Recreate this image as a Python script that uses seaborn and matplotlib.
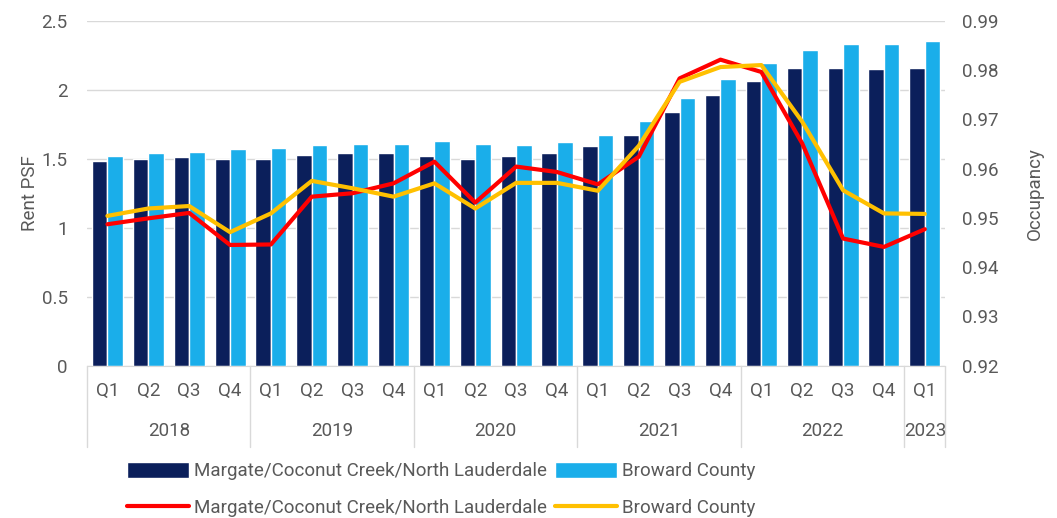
import numpy as np
import pandas as pd
import matplotlib
matplotlib.use("Agg")
import matplotlib.pyplot as plt
import matplotlib.transforms as mtransforms
import seaborn as sns

# data
years = ["2018", "2019", "2020", "2021", "2022", "2023"]
quarters = ["Q1", "Q2", "Q3", "Q4"] * 5 + ["Q1"]
year_of_q = [y for y in years[:5] for _ in range(4)] + ["2023"]
periods = [f"{y} {q}" for y, q in zip(year_of_q, quarters)]

rent_margate = [1.48, 1.50, 1.51, 1.50, 1.50, 1.53, 1.54, 1.54, 1.52, 1.50, 1.52,
                1.54, 1.59, 1.67, 1.84, 1.96, 2.06, 2.16, 2.16, 2.15, 2.16]
rent_broward = [1.52, 1.54, 1.55, 1.57, 1.58, 1.60, 1.61, 1.61, 1.63, 1.61, 1.60,
                1.62, 1.67, 1.77, 1.94, 2.08, 2.19, 2.29, 2.33, 2.33, 2.35]
occ_margate = [0.9487, 0.9499, 0.9510, 0.9445, 0.9446, 0.9543, 0.9550, 0.9570,
               0.9614, 0.9531, 0.9604, 0.9593, 0.9568, 0.9624, 0.9783, 0.9821,
               0.9796, 0.9651, 0.9458, 0.9441, 0.9477]
occ_broward = [0.9504, 0.9519, 0.9524, 0.9471, 0.9509, 0.9575, 0.9560, 0.9543,
               0.9570, 0.9519, 0.9571, 0.9571, 0.9555, 0.9646, 0.9776, 0.9806,
               0.9810, 0.9695, 0.9556, 0.9509, 0.9508]

area_a = "Margate/Coconut Creek/North Lauderdale"
area_b = "Broward County"

bars = pd.DataFrame({
    "period": periods * 2,
    "rent": rent_margate + rent_broward,
    "area": [area_a] * len(periods) + [area_b] * len(periods),
})
lines = pd.DataFrame({
    "period": periods * 2,
    "occ": occ_margate + occ_broward,
    "area": [area_a] * len(periods) + [area_b] * len(periods),
})

sns.set_style("white")
plt.rcParams["font.family"] = ["Roboto", "DejaVu Sans"]
grey = "#595959"
fs = 13.5

fig = plt.figure(figsize=(10.57, 5.18), dpi=100)
ax = fig.add_axes([0.0823, 0.294, 0.812, 0.666])

sns.barplot(data=bars, x="period", y="rent", hue="area", order=periods,
            palette=["#0B1F5B", "#1AAEEA"], width=0.76, saturation=1,
            ax=ax, zorder=2)
ax.get_legend().remove()
ax.set_ylim(0, 2.5)
ax.set_yticks(np.arange(0, 2.51, 0.5))
ax.set_yticklabels(["0", "0.5", "1", "1.5", "2", "2.5"])
ax.yaxis.grid(True, color="#d9d9d9", lw=1, zorder=0)
ax.set_axisbelow(True)
ax.set_xlim(-0.5, len(periods) - 0.5)
ax.set_xticks(range(len(periods)))
ax.set_xticklabels(quarters)
ax.set_xlabel("")
ax.set_ylabel("Rent PSF", fontsize=fs, color=grey, labelpad=2)
ax.tick_params(axis="both", length=0, labelsize=fs, colors=grey)
ax.tick_params(axis="y", pad=14)
ax.tick_params(axis="x", pad=12)
for s in ["top", "left", "right"]:
    ax.spines[s].set_visible(False)
ax.spines["bottom"].set_color("#d9d9d9")

ax2 = ax.twinx()
sns.lineplot(data=lines, x="period", y="occ", hue="area",
             palette=["#FF0000", "#FFC000"], lw=3, ax=ax2, sort=False)
ax2.get_legend().remove()
ax2.set_ylim(0.92, 0.99)
ax2.set_yticks(np.arange(0.92, 0.9901, 0.01))
ax2.set_yticklabels([f"{v:.2f}" for v in np.arange(0.92, 0.9901, 0.01)])
ax2.set_ylabel("Occupancy", fontsize=fs, color=grey, labelpad=20)
ax2.tick_params(axis="y", length=0, labelsize=fs, colors=grey, pad=12)
for s in ["top", "left", "right", "bottom"]:
    ax2.spines[s].set_visible(False)
ax2.set_xlim(-0.5, len(periods) - 0.5)

# year row under the quarter labels
trans = mtransforms.blended_transform_factory(ax.transData, ax.transAxes)
year_pos = {}
for i, y in enumerate(year_of_q):
    year_pos.setdefault(y, []).append(i)
for y, idx in year_pos.items():
    ax.text(np.mean(idx), -0.19, y, transform=trans, ha="center", va="center",
            fontsize=fs, color=grey)
seps = [-0.5] + [max(idx) + 0.5 for idx in year_pos.values()]
for sx in seps:
    ax.plot([sx, sx], [0, -0.235], transform=trans, color="#d9d9d9",
            lw=1, clip_on=False)

# legend: bars on first row, lines on second
h1, l1 = ax.get_legend_handles_labels()
h2, l2 = ax2.get_legend_handles_labels()
fig.legend([h1[0], h2[0], h1[1], h2[1]], [l1[0], l2[0], l1[1], l2[1]],
           ncol=2, loc="upper left", bbox_to_anchor=(0.12, 0.108),
           frameon=False, fontsize=fs, handlelength=3.3, handleheight=0.9,
           handletextpad=0.3, columnspacing=0.4, labelspacing=1.0,
           borderpad=0, borderaxespad=0, labelcolor=grey)

fig.savefig("out.png", dpi=100)
